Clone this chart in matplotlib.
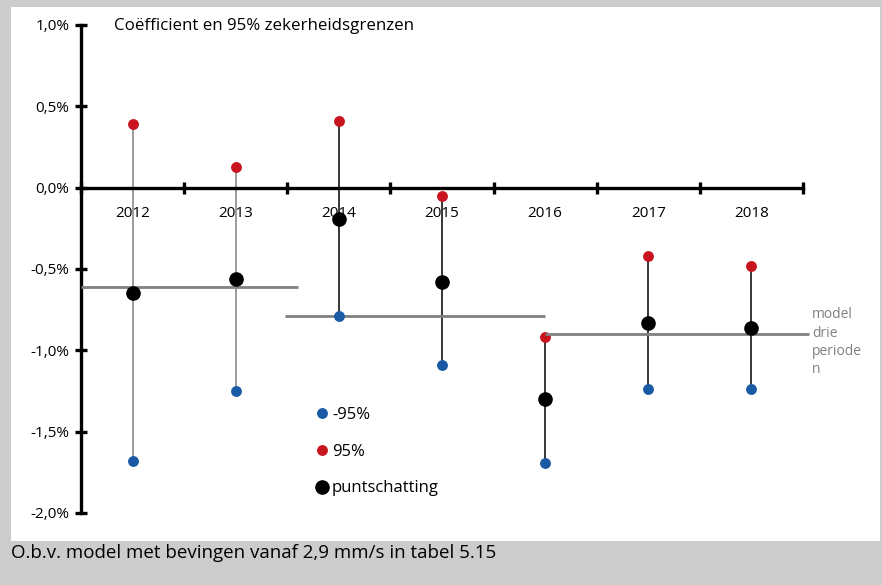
"""Coefficient with 95% confidence bounds per year, plus three-period model levels."""

import matplotlib
matplotlib.use("Agg")
import matplotlib.pyplot as plt
import matplotlib.patches as patches
from matplotlib.lines import Line2D
from matplotlib.ticker import FuncFormatter, MultipleLocator

plt.rcParams["font.family"] = ["Open Sans", "DejaVu Sans"]

# Data (values in %)
years = ["2012", "2013", "2014", "2015", "2016", "2017", "2018"]
upper = [0.39, 0.13, 0.41, -0.05, -0.92, -0.42, -0.48]
point = [-0.65, -0.56, -0.19, -0.58, -1.30, -0.83, -0.86]
lower = [-1.68, -1.25, -0.79, -1.09, -1.69, -1.24, -1.24]

# Three-period model: level and extent (in category units)
model_level = [-0.61, -0.79, -0.90]
model_from = [-0.5, 1.48, 4.0]
model_to = [1.6, 4.0, 6.56]

RED = "#c8141e"
BLUE = "#1a5aa5"
GRAY = "#808080"
BG = "#cccccc"


def main():
    fig = plt.figure(figsize=(8.82, 5.85), dpi=100, facecolor=BG)

    # white panel
    fig.patches.append(patches.Rectangle(
        (11 / 882, 1 - 541 / 585), (880 - 11) / 882, (541 - 7) / 585,
        transform=fig.transFigure, facecolor="white", edgecolor="none",
        zorder=-10))

    ax = fig.add_axes([81 / 882, 1 - 513 / 585, 722 / 882, 488 / 585])
    ax.set_facecolor("none")

    x = list(range(len(years)))
    line_cols = [GRAY, GRAY, "black", "black", "black", "black", "black"]

    ax.vlines(x, lower, upper, colors=line_cols, linewidth=1.1, zorder=2)
    ax.plot(x, upper, "o", color=RED, markersize=6.8, zorder=3,
            label="95%")
    for lv, x0, x1 in zip(model_level, model_from, model_to):
        ax.plot([x0, x1], [lv, lv], color=GRAY, linewidth=2.0, zorder=4,
                clip_on=False, solid_capstyle="butt")
    ax.plot(x, lower, "o", color=BLUE, markersize=6.8, zorder=5,
            label="-95%")
    ax.plot(x, point, "o", color="black", markersize=9.5, zorder=6,
            label="puntschatting")

    ax.text(6.59, -0.735, "model\ndrie\nperiode\nn", color=GRAY,
            fontsize=10, va="top", ha="left", linespacing=1.3)

    # axes styling
    ax.set_xlim(-0.5, 6.5)
    ax.set_ylim(-2.0, 1.0)
    for s in ["top", "right"]:
        ax.spines[s].set_visible(False)
    ax.spines["left"].set_linewidth(2.4)
    ax.spines["bottom"].set_linewidth(2.4)
    ax.spines["bottom"].set_position(("data", 0))

    ax.yaxis.set_major_locator(MultipleLocator(0.5))
    ax.yaxis.set_major_formatter(FuncFormatter(
        lambda v, _: f"{v:.1f}%".replace(".", ",")))
    ax.tick_params(axis="y", direction="inout", length=9, width=2.4,
                   labelsize=11, pad=4)

    ax.set_xticks(x)
    ax.set_xticklabels(years)
    ax.set_xticks([i - 0.5 for i in range(len(years) + 1)], minor=True)
    ax.tick_params(axis="x", which="major", length=0, labelsize=11, pad=13)
    ax.tick_params(axis="x", which="minor", direction="inout", length=9,
                   width=2.4)

    ax.text(0.046, 0.998, "Coëfficient en 95% zekerheidsgrenzen",
            transform=ax.transAxes, fontsize=12.2, va="center", ha="left")

    handles = [
        Line2D([], [], marker="o", ls="", color=BLUE, markersize=6.8),
        Line2D([], [], marker="o", ls="", color=RED, markersize=6.8),
        Line2D([], [], marker="o", ls="", color="black", markersize=9.5),
    ]
    ax.legend(handles, ["-95%", "95%", "puntschatting"],
              loc="upper left", bbox_to_anchor=(317 / 882, 1 - 407 / 585),
              bbox_transform=fig.transFigure, frameon=False, fontsize=12,
              handlelength=0.6, handletextpad=0.3, labelspacing=1.24,
              borderpad=0, borderaxespad=0)

    fig.text(11 / 882, 1 - 553 / 585,
             "O.b.v. model met bevingen vanaf 2,9 mm/s in tabel 5.15",
             fontsize=13.5, va="center", ha="left")

    fig.savefig("out.png", dpi=100, facecolor=BG)
    plt.close(fig)


if __name__ == "__main__":
    main()
